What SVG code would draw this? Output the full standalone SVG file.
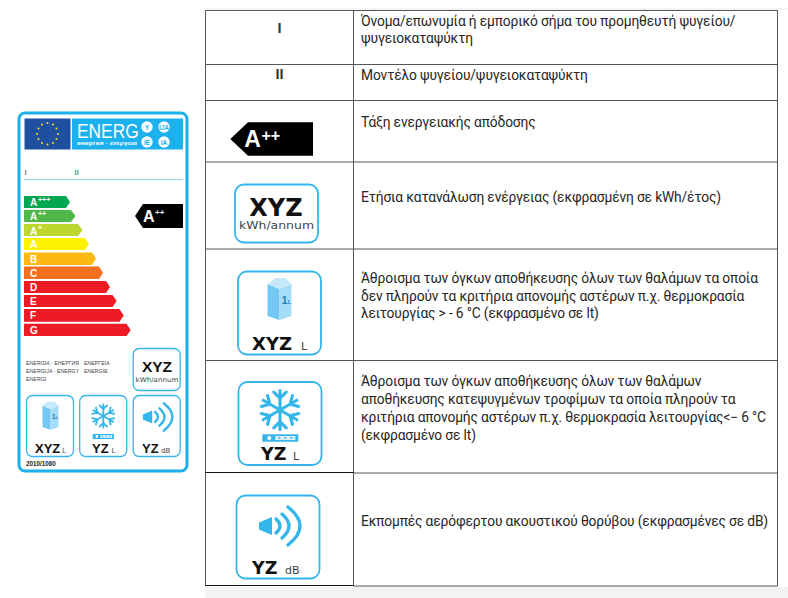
<svg xmlns="http://www.w3.org/2000/svg" xmlns:xlink="http://www.w3.org/1999/xlink" width="788" height="598" viewBox="0 0 788 598">
<style>
.t{font-family:Roboto,"Liberation Sans",sans-serif;font-size:13.8px;fill:#262626;letter-spacing:-.15px}
.b{font-family:"DejaVu Sans",sans-serif;font-weight:700;fill:#111}
.h{font-family:"Liberation Sans",sans-serif;font-weight:700;fill:#111}
.n{font-family:"DejaVu Sans",sans-serif;fill:#444}
.s{font-family:"Liberation Sans",sans-serif;fill:#444}
.w{font-family:"Liberation Sans",sans-serif;fill:#fff;font-weight:700}
.box{fill:#fff;stroke:#35b6ea}
.grid{stroke:#555;stroke-width:1;fill:none}
.cls{font-family:"Liberation Sans",sans-serif;font-weight:700;fill:#fff;font-size:10px}
.sup{font-family:"Liberation Sans",sans-serif;font-weight:700;fill:#fff;font-size:7px}
</style>
<defs>
<g id="carton">
<path d="M-6 -7 L-6 9 L0 11 L0 -4.500 Z" fill="#72c8f2"/>
<path d="M0 -4.500 L0 11 L6 9 L6 -7 Z" fill="#a5dcf7"/>
<path d="M-6 -7 L-2 -10 L3 -10 L6 -7 L0 -4.500 Z" fill="#c5e9fa"/>
<text x="1" y="3" font-family="Liberation Sans,sans-serif" font-weight="700" font-size="5.500" fill="#2c82b8">1<tspan font-size="3">L</tspan></text>
</g>
<g id="flake" fill="none" stroke="#35b6ea" stroke-width="1.600" stroke-linecap="round">
<g id="arm"><path d="M0 0V-10M-3.200 -9.200L0 -6L3.200 -9.200"/></g>
<use xlink:href="#arm" transform="rotate(60)"/><use xlink:href="#arm" transform="rotate(120)"/><use xlink:href="#arm" transform="rotate(180)"/><use xlink:href="#arm" transform="rotate(240)"/><use xlink:href="#arm" transform="rotate(300)"/>
</g>
<g id="sound">
<path d="M-21 -3.500L-8 -9V9L-21 3.500Z" fill="#35b6ea"/>
<g fill="none" stroke="#35b6ea" stroke-linecap="round" stroke-width="3.400">
<path d="M-4 -7Q4 0 -4 7"/><path d="M2 -12Q16 0 2 12"/><path d="M8 -19Q32 0 8 19"/>
</g>
</g>
<g id="bar">
<rect x="-18" y="-3.700" width="36" height="7.400" fill="#35b6ea"/>
<rect x="-5" y="-2" width="20" height="4" fill="#d9f0fb"/>
<circle cx="-11" cy="0" r="2" fill="#fff"/>
<circle cx="-1" cy="0" r="1" fill="#35b6ea"/><circle cx="5" cy="0" r="1" fill="#35b6ea"/><circle cx="11" cy="0" r="1" fill="#35b6ea"/>
</g>
</defs>
<rect width="788" height="598" fill="#fff"/>
<rect x="205" y="8" width="583" height="2" fill="#f5f5f5"/>
<rect x="205" y="587" width="583" height="11" fill="#f3f3f1"/>
<g id="energy-label">
<rect x="19" y="113" width="168" height="358" rx="6" fill="#fff" stroke="#1cb0ec" stroke-width="3"/>
<rect x="24.500" y="118.500" width="46" height="31" fill="#1f4f9f"/>
<g fill="#ffe21a"><circle cx="47.500" cy="123" r="1"/><circle cx="47.500" cy="144.500" r="1"/><circle cx="37" cy="134" r="1"/><circle cx="58" cy="134" r="1"/><circle cx="42" cy="124.500" r="1"/><circle cx="53" cy="124.500" r="1"/><circle cx="42" cy="143" r="1"/><circle cx="53" cy="143" r="1"/><circle cx="38.500" cy="128.500" r="1"/><circle cx="56.500" cy="128.500" r="1"/><circle cx="38.500" cy="139" r="1"/><circle cx="56.500" cy="139" r="1"/></g>
<rect x="72" y="118.500" width="111" height="31" fill="#1cb0ec"/>
<text transform="translate(77 137.500) scale(.89 1)" font-family="Liberation Sans,sans-serif" font-size="19.500" fill="#fff">ENERG</text>
<text class="w" x="77" y="145" font-size="5.800" textLength="60" lengthAdjust="spacingAndGlyphs">енергия · ενεργεια</text>
<g fill="#fff"><circle cx="147" cy="127" r="5.700"/><circle cx="164" cy="127" r="5.700"/><circle cx="147" cy="142" r="5.700"/><circle cx="164" cy="142" r="5.700"/></g>
<g font-family="Liberation Sans,sans-serif" font-size="6.500" font-weight="700" fill="#1cb0ec" text-anchor="middle"><text x="147" y="129.500">Y</text><text x="164" y="129.500">IJA</text><text x="147" y="144.500">IE</text><text x="164" y="144.500">IA</text></g>
<text class="s" x="24.500" y="175" font-size="8">I</text><text class="s" x="74.500" y="175" font-size="8">II</text>
<path d="M24 179.700H183" stroke="#8ed3ee" stroke-width="1"/>
<path d="M24 196H66L70 202L66 208H24Z" fill="#00a651"/>
<path d="M24 210H71L75.500 216L71 222H24Z" fill="#50b848"/>
<path d="M24 224H78L82.500 230L78 236H24Z" fill="#bed630"/>
<path d="M24 238H85L89 244L85 250H24Z" fill="#fff200"/>
<path d="M24 252.500H92L96 258.500L92 265H24Z" fill="#fdb913"/>
<path d="M24 266.500H99L103 273L99 279H24Z" fill="#f37021"/>
<path d="M24 281H106L110 287L106 293H24Z" fill="#ed1c24"/>
<path d="M24 295H112.500L116.700 301L112.500 307H24Z" fill="#ed1c24"/>
<path d="M24 309H119.500L123.700 315.500L119.500 321.700H24Z" fill="#ed1c24"/>
<path d="M24 323.700H126.500L130.700 330L126.500 336H24Z" fill="#ed1c24"/>
<g><text class="cls" x="30" y="206">A</text><text class="sup" x="38" y="202">+++</text><text class="cls" x="30" y="220">A</text><text class="sup" x="38" y="216">++</text><text class="cls" x="30" y="234.500">A</text><text class="sup" x="38" y="230">+</text><text class="cls" x="30" y="248">A</text><text class="cls" x="30" y="262.500">B</text><text class="cls" x="30" y="276.500">C</text><text class="cls" x="30" y="290.500">D</text><text class="cls" x="30" y="304.500">E</text><text class="cls" x="30" y="319">F</text><text class="cls" x="30" y="333.500">G</text></g>
<path d="M135 216L143 204H183V228H143Z" fill="#000"/>
<text class="w" x="143" y="222.300" font-size="16">A</text><text class="w" x="155" y="215" font-size="8">++</text>
<text class="s" font-size="5.300" x="26" y="365">ENERGIA · ЕНЕРГИЯ · ΕΝΕΡΓΕΙΑ</text>
<text class="s" font-size="5.300" x="26" y="373">ENERGIJA · ENERGY · ENERGIE</text>
<text class="s" font-size="5.300" x="26" y="381">ENERGI</text>
<rect class="box" x="133.200" y="348.500" width="47" height="42" rx="6" stroke-width="1.300"/>
<text class="h" x="157" y="371.500" font-size="15.500" text-anchor="middle">XYZ</text>
<text class="n" x="157" y="381.500" font-size="6.500" text-anchor="middle" textLength="43" lengthAdjust="spacingAndGlyphs">kWh/annum</text>
<rect class="box" x="26.500" y="395.500" width="47" height="61" rx="6" stroke-width="1.300"/>
<use xlink:href="#carton" transform="translate(50.500 415) scale(1.330)"/>
<text class="h" x="35" y="453" font-size="13">XYZ</text><text class="n" x="62" y="453" font-size="7">L</text>
<rect class="box" x="79.700" y="395.500" width="47" height="61" rx="6" stroke-width="1.300"/>
<use xlink:href="#flake" transform="translate(103.300 416) scale(1.150)"/>
<use xlink:href="#bar" transform="translate(103.300 436.500) scale(.59 .7)"/>
<text class="h" x="92" y="453" font-size="13">YZ</text><text class="n" x="111.500" y="453" font-size="7">L</text>
<rect class="box" x="133.200" y="395.500" width="47" height="61" rx="6" stroke-width="1.300"/>
<use xlink:href="#sound" transform="translate(158 417) scale(.72)"/>
<text class="h" x="142" y="453" font-size="13">YZ</text><text class="n" x="161" y="453" font-size="7">dB</text>
<text class="w" style="fill:#222" x="26" y="466" font-size="6.300">2010/1060</text>
</g>
<g id="connectors">
<path class="grid" d="M205.500 10.500H777.500V586H353.500M205.500 10.500V585.500M353.500 10.500V586M205.500 64.500H777.500M205.500 100.500H777.500M205.500 162H777.500M205.500 249H777.500M205.500 360.500H777.500M353.500 473H777.500"/>
<path d="M205.500 472.500H353.500M205.500 585.500H353.500" stroke="#111" fill="none"/>
</g>
<g id="row-1"><text class="h" style="fill:#333" x="279.500" y="33.300" font-size="14.500" text-anchor="middle">I</text>
<text class="t" x="361" y="25.700">Όνομα/επωνυμία ή εμπορικό σήμα του προμηθευτή ψυγείου/</text><text class="t" x="361" y="43.300">ψυγειοκαταψύκτη</text></g>
<g id="row-2"><text class="h" style="fill:#333" x="279.500" y="78.500" font-size="14.500" text-anchor="middle">II</text>
<text class="t" x="361" y="80">Μοντέλο ψυγείου/ψυγειοκαταψύκτη</text></g>
<g id="row-3"><path d="M230.300 139L248 122.300H313V155.700H248Z" fill="#000"/>
<text class="w" x="244.300" y="146.700" font-size="23">A</text><text class="w" x="261.500" y="141" font-size="16">++</text>
<text class="t" x="361" y="126.700">Τάξη ενεργειακής απόδοσης</text></g>
<g id="row-4"><rect class="box" x="235" y="184.500" width="83" height="58" rx="9" stroke-width="1.800"/>
<text class="b" x="276" y="215.700" font-size="24" text-anchor="middle">XYZ</text>
<text class="n" x="276.500" y="229.300" font-size="11" text-anchor="middle" textLength="75" lengthAdjust="spacingAndGlyphs">kWh/annum</text>
<text class="t" x="361" y="201.700">Ετήσια κατανάλωση ενέργειας (εκφρασμένη σε kWh/έτος)</text></g>
<g id="row-5"><rect class="box" x="238" y="271.500" width="83" height="83" rx="9" stroke-width="1.800"/>
<use xlink:href="#carton" transform="translate(279.500 298) scale(2)"/>
<text class="b" x="252" y="350" font-size="18">XYZ</text><text class="n" x="301" y="350" font-size="11">L</text>
<text class="t" x="361" y="283.300">Άθροισμα των όγκων αποθήκευσης όλων των θαλάμων τα οποία</text><text class="t" x="361" y="300.700">δεν πληρούν τα κριτήρια απονομής αστέρων π.χ. θερμοκρασία</text><text class="t" x="361" y="318.300">λειτουργίας &gt; - 6 °C (εκφρασμένο σε lt)</text></g>
<g id="row-6"><rect class="box" x="238.500" y="382" width="83" height="83" rx="9" stroke-width="1.800"/>
<use xlink:href="#flake" transform="translate(280 410) scale(1.950)"/>
<use xlink:href="#bar" transform="translate(280.300 438)"/>
<text class="b" x="261" y="460" font-size="17.500">YZ</text><text class="n" x="293" y="460" font-size="11">L</text>
<text class="t" x="361" y="386">Άθροισμα των όγκων αποθήκευσης όλων των θαλάμων</text><text class="t" x="361" y="404">αποθήκευσης κατεψυγμένων τροφίμων τα οποία πληρούν τα</text><text class="t" x="361" y="421.700">κριτήρια απονομής αστέρων π.χ. θερμοκρασία λειτουργίας&lt;− 6 °C</text><text class="t" x="361" y="440">(εκφρασμένο σε lt)</text></g>
<g id="row-7"><rect class="box" x="236.500" y="495.500" width="83" height="83" rx="9" stroke-width="1.800"/>
<use xlink:href="#sound" transform="translate(280 526)"/>
<text class="b" x="252" y="574.300" font-size="17.500">YZ</text><text class="n" x="285" y="574.300" font-size="11">dB</text>
<text class="t" x="361" y="526">Εκπομπές αερόφερτου ακουστικού θορύβου (εκφρασμένες σε dB)</text></g>
</svg>
